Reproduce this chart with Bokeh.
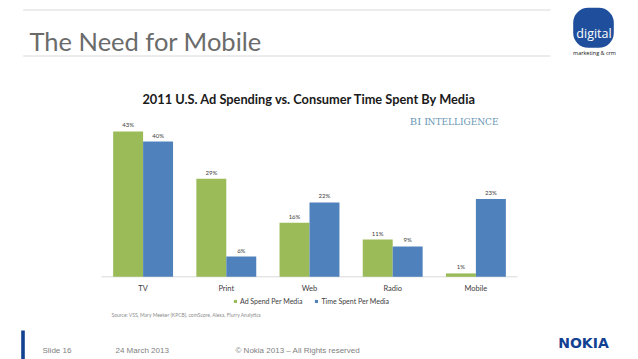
from bokeh.plotting import figure
from bokeh.models import Range1d, Legend, LegendItem, ColumnDataSource
from bokeh.transform import dodge
from bokeh.embed import file_html
from bokeh.resources import INLINE
from bokeh.core.properties import value

# ---- data ----
categories = ["TV", "Print", "Web", "Radio", "Mobile"]
ad_spend = [43, 29, 16, 11, 1]
time_spent = [40, 6, 22, 9, 23]
series_names = ["Ad Spend Per Media", "Time Spent Per Media"]
chart_title = "2011 U.S. Ad Spending vs. Consumer Time Spent By Media"
slide_title = "The Need for Mobile"
source_note = "Source: VSS, Mary Meeker (KPCB), comScore, Alexa, Flurry Analytics"
footer_texts = ["Slide 16", "24 March 2013", "\u00a9  Nokia 2013 \u2013 All Rights reserved"]

GREEN = "#9BBB59"
BLUE = "#4F81BD"

# slide canvas in slide pixels; the chart is placed via its own scales
CAT_PX = 83.2      # pixels per category
CAT0_PX = 142.6    # slide x of first category centre
PCT_PX = 3.38      # pixels per percentage point
BASE_PX = 276.3    # slide y of the 0% baseline
X0, X1, Y0, Y1 = 0, 638, 0, 359

p = figure(width=X1 - X0, height=Y1 - Y0, x_range=Range1d(X0, X1), y_range=Range1d(Y1, Y0),
           output_backend="svg", toolbar_location=None, min_border=0,
           x_axis_location=None, y_axis_location=None)
p.grid.visible = False
p.outline_line_color = None
p.extra_x_ranges = {"cat": Range1d((X0 - CAT0_PX) / CAT_PX, (X1 - CAT0_PX) / CAT_PX)}
p.extra_y_ranges = {"pct": Range1d(-(Y1 - BASE_PX) / PCT_PX, (BASE_PX - Y0) / PCT_PX)}

# ---- header ----
p.segment(x0=[22.7, 22.7], y0=[9.5, 55.5], x1=[550, 550], y1=[9.5, 55.5],
          line_color="#d9d9d9", line_width=1)
p.text(x=[29], y=[40.7], text=[slide_title], text_font=value("Lato"), text_font_size="25.5px",
       text_color="#6b6b6b", text_baseline="alphabetic")
p.quad(left=[572.7], right=[613.3], top=[7.3], bottom=[47.3], fill_color="#1f4f9c",
       line_color=None, border_radius=15)
p.text(x=[593.5], y=[33], text=["digital"], text_font=value("Open Sans"), text_font_size="12.5px",
       text_color="white", text_align="center", text_baseline="middle")
p.text(x=[594], y=[52.3], text=["marketing & crm"], text_font=value("Open Sans"),
       text_font_size="5.5px", text_color="#111111", text_align="center", text_baseline="middle")

# ---- chart ----
src = ColumnDataSource(dict(idx=list(range(len(categories))), cat=categories,
                            zero=[0] * len(categories), ad=ad_spend, ts=time_spent,
                            ad_lbl=[f"{v}%" for v in ad_spend],
                            ts_lbl=[f"{v}%" for v in time_spent]))
rn = dict(x_range_name="cat", y_range_name="pct")

p.text(x=[309], y=[98.3], text=[chart_title], text_font=value("Lato"), text_font_style="bold",
       text_font_size="12.8px", text_color="#1a1a1a", text_align="center", text_baseline="alphabetic")

# baseline across the category band
p.segment(x0=[-0.5], y0=[0], x1=[len(categories) - 0.5], y1=[0], line_color="#d9d9d9",
          line_width=1, **rn)

r1 = p.vbar(x=dodge("idx", -0.18), top="ad", width=0.36, source=src,
            fill_color=GREEN, line_color=None, **rn)
r2 = p.vbar(x=dodge("idx", 0.18), top="ts", width=0.36, source=src,
            fill_color=BLUE, line_color=None, **rn)
p.text(x=dodge("idx", -0.18), y="ad", text="ad_lbl", source=src,
       text_align="center", text_baseline="middle", y_offset=-6.5, text_font_size="6px",
       text_color="#404040", text_font=value("Lato"), **rn)
p.text(x=dodge("idx", 0.18), y="ts", text="ts_lbl", source=src,
       text_align="center", text_baseline="middle", y_offset=-6.5, text_font_size="6px",
       text_color="#404040", text_font=value("Lato"), **rn)
# category labels
p.text(x="idx", y="zero", text="cat", source=src, text_align="center", text_baseline="middle",
       y_offset=12, text_font_size="7.5px", text_color="#404040", text_font=value("Lato"), **rn)

# BI Intelligence mark
p.text(x=[409.3], y=[121], text=["BI I"], text_font=value("DejaVu Serif"),
       text_font_size="10px", text_color="#6a98b5", text_baseline="middle")
p.text(x=[427], y=[121.5], text=["NTELLIGENCE"], text_font=value("DejaVu Serif"),
       text_font_size="9px", text_color="#6a98b5", text_baseline="middle")

legend = Legend(items=[LegendItem(label=series_names[0], renderers=[r1]),
                       LegendItem(label=series_names[1], renderers=[r2])],
                orientation="horizontal", location=(233 - X0, Y1 - 304.5),
                label_text_font="Lato", label_text_font_size="7px", label_text_color="#404040",
                glyph_width=4, glyph_height=4, label_standoff=3, spacing=12,
                padding=0, margin=0, border_line_color=None, background_fill_alpha=0,
                label_height=8)
p.add_layout(legend)

p.text(x=[111], y=[314], text=[source_note], text_font=value("Lato"), text_font_size="5px",
       text_color="#8c8c8c", text_baseline="middle")

# ---- footer ----
p.quad(left=[20.7], right=[24.3], top=[330], bottom=[360], fill_color="#124191", line_color=None)
p.text(x=[42, 115, 235], y=[349.5, 349.5, 349.5], text=footer_texts,
       text_font=value("Liberation Sans"), text_font_size="8px", text_color="#7f7f7f",
       text_baseline="middle")
p.text(x=[583], y=[342.7], text=["NOKIA"], text_font=value("DejaVu Sans"), text_font_style="bold",
       text_font_size="14px", text_color="#124191", text_align="center", text_baseline="middle")

open("out.html", "w").write(file_html(p, INLINE))
